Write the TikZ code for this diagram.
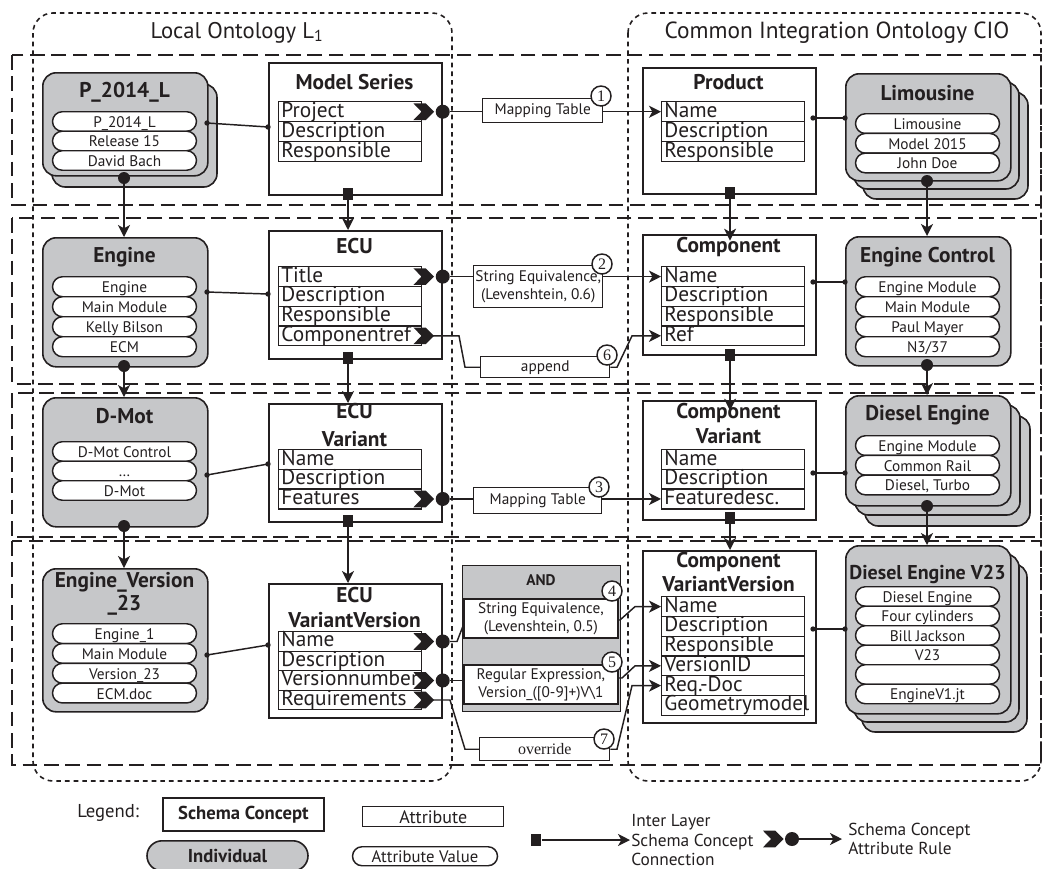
\documentclass[tikz,border=0pt]{standalone}
\usepackage{fontspec}
\setmainfont{PT Sans}
\newfontfamily\numfont{Liberation Serif}
\usetikzlibrary{arrows.meta,shapes.misc}

\definecolor{ink}{RGB}{35,31,32}
\definecolor{indgray}{RGB}{198,199,201}

\newcommand\fsz[2]{\fontsize{#1}{#2}\selectfont}

% attribute rows of a schema concept: prefix, left x, top y, row height, labels
\newcommand\attrrows[5]{%
  \foreach \lbl [count=\i] in {#5}{%
    \node[attr, minimum height={#4*0.75pt}] (#1\i) at (#2,{#3+(\i-1)*#4}) {\lbl};
  }}
% attribute values of an individual: prefix, centre x, top y, row height, values
\newcommand\valrows[5]{%
  \foreach \lbl [count=\i] in {#5}{%
    \node[aval, minimum height={#4*0.75pt}] (#1\i) at (#2,{#3+(\i-1)*#4}) {\lbl};
  }}

\tikzset{
  sz/.style 2 args={minimum width={#1*0.75pt}, minimum height={#2*0.75pt}},
  concept/.style={draw=ink, line width=1.3pt, fill=white, anchor=north west, inner sep=0pt},
  indiv/.style={draw=ink, line width=1.2pt, fill=indgray, rounded corners=10pt, anchor=north west, inner sep=0pt},
  indback/.style={draw=ink, line width=1.2pt, fill=indgray, rounded corners=10pt},
  ctitle/.style={anchor=base, inner sep=0pt, text=ink, font=\fsz{16}{18}\bfseries},
  attr/.style={draw=ink, line width=1.1pt, fill=white, anchor=north west, inner xsep=2pt, inner ysep=0pt,
    text width=103.25pt, align=left, text height=11.2pt, text depth=3pt, text=ink, font=\fsz{16}{18}},
  aval/.style={rounded rectangle, draw=ink, line width=1.1pt, fill=white, anchor=north, minimum width=108pt,
    inner sep=0pt, text height=10.5pt, text depth=1.5pt, text=ink, font=\fsz{11.5}{13}},
  rulebox/.style={draw=ink, line width=1.1pt, fill=white, anchor=north west, inner sep=0pt, align=center,
    text=ink, font=\fsz{11.5}{13.5}},
  rnum/.style={circle, draw=ink, line width=1.1pt, fill=white, minimum size=15pt, inner sep=0pt, text=ink,
    font=\numfont\fsz{12}{12}},
  ruledot/.style={circle, fill=ink, minimum size=10.5pt, inner sep=0pt},
  inddot/.style={circle, fill=ink, minimum size=9pt, inner sep=0pt},
  enddot/.style={circle, fill=ink, minimum size=4pt, inner sep=0pt},
  layersq/.style={fill=ink, minimum width=8pt, minimum height=8.5pt, inner sep=0pt},
  link/.style={draw=ink, line width=1.1pt},
  tip/.style={link, -{Stealth[length=9pt, width=9pt, inset=2.5pt]}},
  layer/.style={draw=ink, line width=1.5pt, dash pattern=on 11pt off 5pt},
  onto/.style={draw=ink, line width=1.2pt, dash pattern=on 3.5pt off 3pt, rounded corners=15pt},
  chev/.pic={\fill[ink] (-9,-8.3) -- (3.3,-8.3) -- (11.6,0) -- (3.3,8.3) -- (-9,8.3) -- (-1,0) -- cycle;},
  legtext/.style={anchor=base west, inner sep=0pt, text=ink, font=\fsz{13}{15}},
}

\begin{document}
\begin{tikzpicture}[x=0.75pt, y=-0.75pt]
\useasboundingbox (0,0) rectangle (1042,868);

% ---------- ontology frames ----------
\draw[onto] (33,13) rectangle (452,781);
\draw[onto] (628,13) rectangle (1041,781);
\node[anchor=base, inner sep=0pt, text=ink, font=\fsz{17}{20}] (titleL) at (237,38) {Local Ontology L\textsubscript{1}};
\node[anchor=base, inner sep=0pt, text=ink, font=\fsz{17.5}{20}] (titleC) at (837,38) {Common Integration Ontology CIO};

% ---------- layers ----------
\draw[layer] (12,55) rectangle (1041,205);
\draw[layer] (12,218) rectangle (1041,384);
\draw[layer] (12,393) rectangle (1041,537);
\draw[layer] (12,541) rectangle (1041,765);

% ---------- individuals, local side ----------
\draw[indback] (52,84) rectangle (217,187);
\node[indiv, sz={165}{103}] (p2014) at (42,72) {};
\node[ctitle] (p2014T) at (124.5,97) {P\_2014\_L};
\valrows{p2014v}{124.5}{111}{19.5}{P\_2014\_L, Release 15, David Bach}

\node[indiv, sz={165}{129}] (eng) at (42,237) {};
\node[ctitle] (engT) at (124.5,262) {Engine};
\valrows{engv}{124.5}{276}{20}{Engine, Main Module, Kelly Bilson, ECM}

\node[indiv, sz={165}{129}] (dmot) at (42,397) {};
\node[ctitle] (dmotT) at (124.5,423) {D-Mot};
\valrows{dmotv}{124.5}{441}{19.5}{D-Mot Control, \ldots, D-Mot}

\node[indiv, sz={165}{143}] (ev23) at (42,568) {};
\node[ctitle] (ev23T) at (124.5,587) {Engine\_Version};
\node[ctitle] (ev23T2) at (124.5,610) {\_23};
\valrows{ev23v}{124.5}{623}{19.8}{Engine\_1, Main Module, Version\_23, ECM.doc}

% ---------- individuals, integration side ----------
\draw[indback] (863,92) rectangle (1028,199);
\draw[indback] (854,82) rectangle (1019,189);
\node[indiv, sz={165}{107}] (limo) at (845,73) {};
\node[ctitle] (limoT) at (927.5,100) {Limousine};
\valrows{limov}{927.5}{113}{19.7}{Limousine, Model 2015, John Doe}

\node[indiv, sz={165}{129}] (engc) at (845,236) {};
\node[ctitle] (engcT) at (927.5,262) {Engine Control};
\valrows{engcv}{927.5}{276}{20}{Engine Module, Main Module, Paul Mayer, N3/37}

\draw[indback] (865,416) rectangle (1030,526);
\draw[indback] (855,405) rectangle (1020,515);
\node[indiv, sz={165}{110}] (dies) at (845,395) {};
\node[ctitle] (diesT) at (927.5,420) {Diesel Engine};
\valrows{diesv}{927.5}{435}{19.7}{Engine Module, Common Rail, {Diesel, Turbo}}

\draw[indback] (862,564) rectangle (1027,732);
\draw[indback] (854,554) rectangle (1019,722);
\node[indiv, sz={165}{168}] (dv23) at (845,545) {};
\node[ctitle, font=\fsz{15}{18}\bfseries] (dv23T) at (927.5,579) {Diesel Engine V23};
\valrows{dv23v}{927.5}{586}{19.5}{Diesel Engine, Four cylinders, Bill Jackson, V23, {}, EngineV1.jt}

% ---------- schema concepts, local side ----------
\node[concept, sz={173}{132}] (ms) at (268,62) {};
\node[ctitle] (msT) at (354.5,89) {Model Series};
\attrrows{ms}{278}{101}{20}{Project, Description, Responsible}

\node[concept, sz={173}{128}] (ecu) at (268,230) {};
\node[ctitle] (ecuT) at (354.5,253) {ECU};
\attrrows{ecu}{278}{266}{19.75}{Title, Description, Responsible, Componentref}

\node[concept, sz={173}{118}] (ecuv) at (268,403) {};
\node[ctitle] (ecuvT) at (354.5,418) {ECU};
\node[ctitle] (ecuvT2) at (354.5,446) {Variant};
\attrrows{ecuv}{278}{449}{19.7}{Name, Description, Features}

\node[concept, sz={173}{134}] (ecuvv) at (268,583) {};
\node[ctitle] (ecuvvT) at (354.5,602) {ECU};
\node[ctitle] (ecuvvT2) at (354.5,627) {VariantVersion};
\attrrows{ecuvv}{278}{631}{19.5}{Name, Description, Versionnumber, Requirements}

% ---------- schema concepts, integration side ----------
\node[concept, sz={173}{126}] (pr) at (642,67) {};
\node[ctitle] (prT) at (728.5,89) {Product};
\attrrows{pr}{661}{101}{20}{Name, Description, Responsible}

\node[concept, sz={173}{120}] (comp) at (642,234) {};
\node[ctitle] (compT) at (728.5,252) {Component};
\attrrows{comp}{661}{266}{19.75}{Name, Description, Responsible, Ref}

\node[concept, sz={173}{119}] (compv) at (642,400) {};
\node[ctitle] (compvT) at (728.5,418) {Component};
\node[ctitle] (compvT2) at (728.5,443) {Variant};
\attrrows{compv}{661}{449}{19.7}{Name, Description, Featuredesc.}

\node[concept, sz={173}{172}] (compvv) at (642,550) {};
\node[ctitle] (compvvT) at (728.5,567) {Component};
\node[ctitle] (compvvT2) at (728.5,591) {VariantVersion};
\attrrows{compvv}{661}{596}{19.75}{Name, Description, Responsible, VersionID, Req.-Doc, Geometrymodel}

% ---------- attribute rules ----------
\node[rulebox, sz={120}{24}] (map1) at (482,98) {Mapping Table};
\node[rulebox, sz={129}{42}] (se2) at (473,265) {String Equivalence,\\(Levenshtein, 0.6)};
\node[rulebox, sz={129}{21}] (app6) at (480,356) {append};
\node[rulebox, sz={128}{26}] (map3) at (473,487) {Mapping Table};
\node[concept, fill=indgray, line width=1.1pt, sz={158}{146}] (and) at (462,565) {};
\node[anchor=base, inner sep=0pt, text=ink, font=\fsz{11.5}{13}\bfseries] (andT) at (541,585) {AND};
\node[rulebox, line width=1.4pt, sz={154}{39}] (se4) at (463,598) {String Equivalence,\\(Levenshtein, 0.5)};
\node[rulebox, line width=1.4pt, sz={154}{39}] (re5) at (463,664) {Regular Expression,\\Version\_([0-9]+)V\textbackslash 1};
\node[rulebox, sz={130}{23}, font=\numfont\fsz{12}{14}] (ovr7) at (479,737) {override};

% ---------- links between individuals and concepts ----------
\node[enddot] (k1a) at (207,123) {};  \node[enddot] (k1b) at (268,127) {};
\node[enddot] (k2a) at (207,292) {};  \node[enddot] (k2b) at (268,294) {};
\node[enddot] (k3a) at (207,475) {};  \node[enddot] (k3b) at (268,464) {};
\node[enddot] (k4a) at (207,655) {};  \node[enddot] (k4b) at (268,645) {};
\node[enddot] (k5a) at (813,118) {};  \node[enddot] (k5b) at (845,118) {};
\node[enddot] (k6a) at (813,282) {};  \node[enddot] (k6b) at (845,282) {};
\node[enddot] (k7a) at (813,473) {};  \node[enddot] (k7b) at (845,473) {};
\node[enddot] (k8a) at (813,629) {};  \node[enddot] (k8b) at (845,629) {};
\foreach \k in {1,...,8}{\draw[link] (k\k a.center) -- (k\k b.center);}

% ---------- inter layer schema concept connections ----------
\node[layersq] (q1) at (348,194) {};
\node[layersq] (q2) at (348,358) {};
\node[layersq] (q3) at (348,521) {};
\node[layersq] (q4) at (730,193) {};
\node[layersq] (q5) at (730,355) {};
\node[layersq] (q6) at (730,518) {};
\draw[tip] (q1) -- (q1 |- ecu.north);
\draw[tip] (q2) -- (q2 |- ecuv.north);
\draw[tip] (q3) -- (q3 |- ecuvv.north);
\draw[tip, shorten >=-5pt] (q4) -- (q4 |- comp.north);
\draw[tip, shorten >=-8pt] (q5) -- (q5 |- compv.north);
\draw[tip] (q6) -- (q6 |- compvv.north);

% ---------- individual chains ----------
\node[inddot] (e1) at (124,178) {};
\node[inddot] (e2) at (124,366) {};
\node[inddot] (e3) at (124,526) {};
\node[inddot] (e4) at (927,181) {};
\node[inddot] (e5) at (927,365) {};
\node[inddot] (e6) at (927,506) {};
\draw[tip] (e1) -- (e1 |- eng.north);
\draw[tip] (e2) -- (e2 |- dmot.north);
\draw[tip] (e3) -- (e3 |- ev23.north);
\draw[tip] (e4) -- (e4 |- engc.north);
\draw[tip] (e5) -- (e5 |- dies.north);
\draw[tip] (e6) -- (e6 |- dv23.north);

% ---------- rule connections ----------
\node[ruledot] (d1) at (ms.east |- ms1) {};
\node[ruledot] (d2) at (ecu.east |- ecu1) {};
\node[ruledot] (d3) at (ecuv.east |- ecuv3) {};
\node[ruledot] (d4) at (ecuvv.east |- ecuvv1) {};
\node[ruledot] (d5) at (ecuvv.east |- ecuvv3) {};

\draw[link] (d1) -- (d1 -| map1.west);
\draw[tip] (map1.east |- pr1) -- (pr1.west);

\draw[link] (d2) -- (d2 -| se2.west);
\draw[tip] (se2.east |- comp1) -- (comp1.west);

\draw[link] (ecu4.east) -- (ecu4.east -| 459,0) -- (app6.west -| 465,0) -- (app6.west);
\draw[tip] (app6.east) -- (app6.east -| 617,0) -- (comp4.west -| 632,0) -- (comp4.west);

\draw[link] (d3) -- (d3 -| map3.west);
\draw[tip] (map3.east |- compv3) -- (compv3.west);

\draw[link] (d4) -- (d4 -| 457,0) -- (se4.west |- 0,626);
\draw[tip] (se4.east |- 0,620) -- (620,620) -- (compvv1.west -| 635,0) -- (compvv1.west);

\draw[link] (d5) -- (d5 -| re5.west);
\draw[tip] (re5.east |- 0,678) -- (622,678) -- (compvv4.west -| 635,0) -- (compvv4.west);

\draw[link] (ecuvv4.east) -- (ecuvv4.east -| 450,0) -- (ovr7.west -| 465,0) -- (ovr7.west);
\draw[tip] (ovr7.east) -- (ovr7.east -| 617,0) -- (compvv5.west -| 632,0) -- (compvv5.west);

\pic at (ms1.east) {chev};
\pic at (ecu1.east) {chev};
\pic at (ecu4.east) {chev};
\pic at (ecuv3.east) {chev};
\pic at (ecuvv1.east) {chev};
\pic at (ecuvv3.east) {chev};
\pic at (ecuvv4.east) {chev};

\node[rnum] (n1) at (601,96) {1};
\node[rnum] (n2) at (602,264) {2};
\node[rnum] (n6) at (607,355) {6};
\node[rnum] (n3) at (599,487) {3};
\node[rnum] (n4) at (612,591) {4};
\node[rnum] (n5) at (612,662) {5};
\node[rnum] (n7) at (604,739) {7};

% ---------- legend ----------
\node[anchor=base west, inner sep=0pt, text=ink, font=\fsz{14}{16}] (lgd) at (77,817) {Legend:};
\node[concept, sz={161}{33}, text=ink, font=\fsz{14}{16}\bfseries] (lgc) at (162,797) {Schema Concept};
\node[rounded rectangle, draw=ink, line width=1.2pt, fill=indgray, anchor=north west, inner sep=0pt,
  sz={161}{30}, text=ink, font=\fsz{14}{16}\bfseries] (lgi) at (162,840) {Individual};
\node[rulebox, sz={141}{20}, font=\fsz{13.5}{15}] (lga) at (362,806) {Attribute};
\node[rounded rectangle, draw=ink, line width=1.1pt, fill=white, anchor=north west, inner sep=0pt,
  sz={145}{19}, text=ink, font=\fsz{12.5}{14}] (lgv) at (362,846) {Attribute Value};

\node[layersq] (lsq) at (536,840) {};
\coordinate (lsqend) at (630,840);
\draw[tip] (lsq) -- (lsqend);
\node[legtext] (lt1) at (631,826) {Inter Layer};
\node[legtext] (lt2) at (631,846) {Schema Concept};
\node[legtext] (lt3) at (631,865) {Connection};

\pic at (772,839) {chev};
\node[ruledot] (ldot) at (792,839) {};
\coordinate (ldotend) at (842,839);
\draw[tip] (ldot) -- (ldotend);
\node[legtext] (lr1) at (848,835) {Schema Concept};
\node[legtext] (lr2) at (848,854) {Attribute Rule};
\end{tikzpicture}
\end{document}
